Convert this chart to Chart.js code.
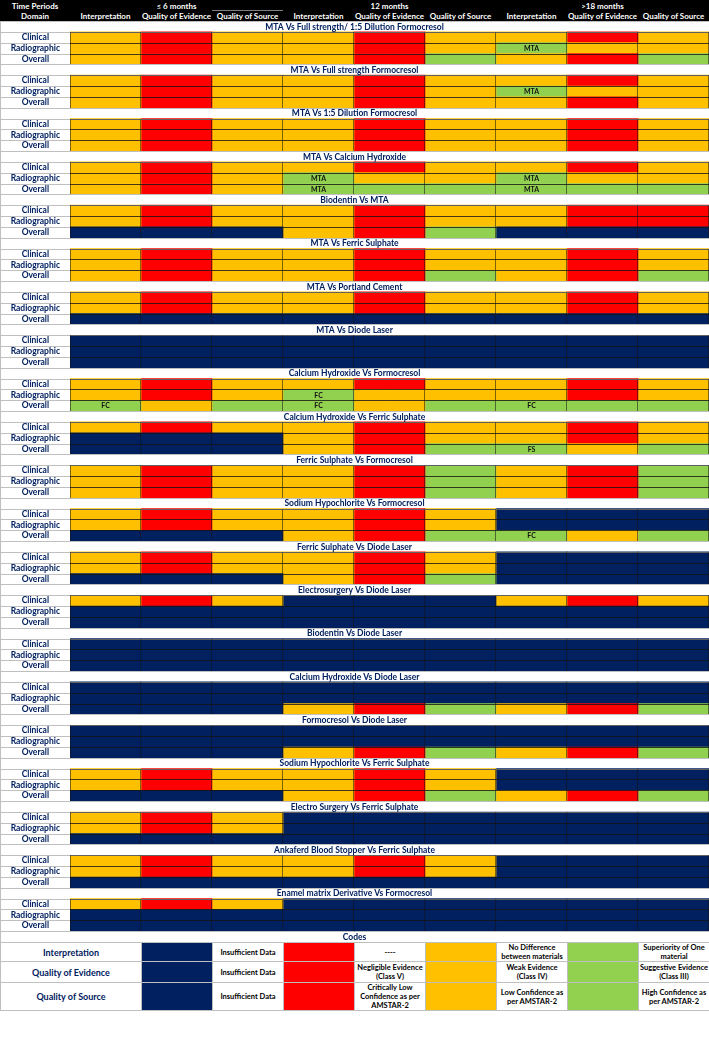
<!DOCTYPE html>
<html>
<head>
<meta charset="utf-8">
<title>Comparisons grid</title>
<script src="https://cdn.jsdelivr.net/npm/chart.js@4.4.1/dist/chart.umd.min.js"></script>
<style>
  body { margin: 0; background: #fff; font-family: Lato, "Open Sans", sans-serif; }
  #page { position: relative; width: 709px; height: 1039px; overflow: hidden; }
  #head { position: absolute; left: 0; top: 0; width: 709px; height: 21px; background: #000; color: #fff; font-weight: bold; font-size: 8px; }
  #head span { position: absolute; text-align: center; white-space: nowrap; line-height: 10px; }
  #head .rule { position: absolute; left: 212px; top: 10px; width: 71px; height: 1px; background: #7f7f7f; }
  #wrap { position: absolute; left: 0; top: 21px; width: 709px; height: 921px; }
  #codes { position: absolute; left: 0; top: 942px; width: 709px; border-collapse: collapse; table-layout: fixed; }
  #codes td { border: 1px solid #bfbfbf; padding: 0 1px; text-align: center; font-weight: bold; font-size: 7.5px; line-height: 9px; color: #000; }
  #codes td.name { color: #002060; font-size: 9px; }
</style>
</head>
<body>
<div id="page">
  <div id="head"></div>
  <div id="wrap"><canvas id="grid"></canvas></div>
  <table id="codes"></table>
</div>
<script>
// column groups and row names
var periods = ['≤ 6 months', '12 months', '>18 months'];
var domains = ['Interpretation', 'Quality of Evidence', 'Quality of Source'];
var outcomes = ['Clinical', 'Radiographic', 'Overall'];

var comparisons = [
  'MTA Vs Full strength/ 1:5 Dilution Formocresol',
  'MTA Vs Full strength Formocresol',
  'MTA Vs 1:5 Dilution Formocresol',
  'MTA Vs Calcium Hydroxide',
  'Biodentin Vs MTA',
  'MTA Vs Ferric Sulphate',
  'MTA Vs Portland Cement',
  'MTA Vs Diode Laser',
  'Calcium Hydroxide Vs Formocresol',
  'Calcium Hydroxide Vs Ferric Sulphate',
  'Ferric Sulphate Vs Formocresol',
  'Sodium Hypochlorite Vs Formocresol',
  'Ferric Sulphate Vs Diode Laser',
  'Electrosurgery Vs Diode Laser',
  'Biodentin Vs Diode Laser',
  'Calcium Hydroxide Vs Diode Laser',
  'Formocresol Vs Diode Laser',
  'Sodium Hypochlorite Vs Ferric Sulphate',
  'Electro Surgery Vs Ferric Sulphate',
  'Ankaferd Blood Stopper Vs Ferric Sulphate',
  'Enamel matrix Derivative Vs Formocresol'
];

// N = insufficient data, R = red, O = amber, G = green ; one string per outcome row
var grades = [
  ['ORO ORO ORO', 'ORO ORO GOO', 'ORO ORG ORG'],
  ['ORO ORO ORO', 'ORO ORO GOO', 'ORO ORO ORO'],
  ['ORO ORO ORO', 'ORO ORO ORO', 'ORO ORO ORO'],
  ['ORO ORO ORO', 'ORO GOO GOO', 'ORO GGG GGG'],
  ['ORO ORO ORR', 'ORO ORO ORR', 'NNN ORG NNN'],
  ['ORO ORO ORO', 'ORO ORO ORO', 'ORO ORG ORG'],
  ['ORO ORO ORO', 'ORO ORO ORO', 'NNN NNN NNN'],
  ['NNN NNN NNN', 'NNN NNN NNN', 'NNN NNN NNN'],
  ['ORO ORO ORO', 'ORO GOO ORO', 'GOG GOG GGG'],
  ['ORO ORO ORO', 'NNN ORO ORO', 'NNN ORG GOG'],
  ['ORO ORG ORG', 'ORO ORG ORG', 'ORO ORG ORG'],
  ['ORO ORO NNN', 'ORO ORO NNN', 'NNN ORG GOG'],
  ['ORO ORO NNN', 'ORO ORO NNN', 'NNN ORG NNN'],
  ['ORO NNN ORO', 'NNN NNN NNN', 'NNN NNN NNN'],
  ['NNN NNN NNN', 'NNN NNN NNN', 'NNN NNN NNN'],
  ['NNN NNN NNN', 'NNN NNN NNN', 'NNN ORG ORG'],
  ['NNN NNN NNN', 'NNN NNN NNN', 'NNN ORG ORG'],
  ['ORO ORO NNN', 'ORO ORO NNN', 'NNN ORG ORG'],
  ['ORO NNN NNN', 'ORO NNN NNN', 'NNN NNN NNN'],
  ['ORO ORO NNN', 'ORO ORO NNN', 'NNN NNN NNN'],
  ['ORO NNN NNN', 'NNN NNN NNN', 'NNN NNN NNN']
];

// [comparison, outcome, column, text]
var cellNotes = [
  [0, 1, 6, 'MTA'],
  [1, 1, 6, 'MTA'],
  [3, 1, 3, 'MTA'], [3, 1, 6, 'MTA'], [3, 2, 3, 'MTA'], [3, 2, 6, 'MTA'],
  [8, 1, 3, 'FC'], [8, 2, 0, 'FC'], [8, 2, 3, 'FC'], [8, 2, 6, 'FC'],
  [9, 2, 6, 'FS'],
  [11, 2, 6, 'FC']
];

var codeOrder = ['N', 'R', 'O', 'G'];
var codeRows = ['Interpretation', 'Quality of Evidence', 'Quality of Source'];
var codeTexts = [
  ['Insufficient Data', '----', 'No Difference between materials', 'Superiority of One material'],
  ['Insufficient Data', 'Negligible Evidence (Class V)', 'Weak Evidence (Class IV)', 'Suggestive Evidence (Class III)'],
  ['Insufficient Data', 'Critically Low Confidence as per AMSTAR-2', 'Low Confidence as per AMSTAR-2', 'High Confidence as per AMSTAR-2']
];

var palette = { N: '#002060', R: '#ff0000', O: '#ffc000', G: '#92d050' };
var navy = '#002060';

// header
var head = document.getElementById('head');
function addHead(text, left, top, width) {
  var s = document.createElement('span');
  s.textContent = text;
  s.style.left = left + 'px';
  s.style.top = top + 'px';
  s.style.width = width + 'px';
  head.appendChild(s);
}
addHead('Time Periods', 0, 1, 70);
addHead('Domain', 0, 11, 70);
periods.forEach(function (p, i) { addHead(p, 70 + i * 213, 1, 213); });
for (var c = 0; c < 9; c++) addHead(domains[c % 3], 70 + c * 71, 11, 71);
var rule = document.createElement('div');
rule.className = 'rule';
head.appendChild(rule);

// codes table
var table = document.getElementById('codes');
var heights = [18, 21, 28];
var cg = '<colgroup><col style="width:141px">';
for (var k = 0; k < 8; k++) cg += '<col style="width:71px">';
table.innerHTML = cg + '</colgroup>';
codeRows.forEach(function (name, r) {
  var tr = table.insertRow();
  tr.style.height = heights[r] + 'px';
  var td = tr.insertCell();
  td.className = 'name';
  td.textContent = name;
  codeOrder.forEach(function (code, j) {
    var sw = tr.insertCell();
    sw.style.background = palette[code];
    var tx = tr.insertCell();
    tx.textContent = codeTexts[r][j];
  });
});

// rows of the grid
var rows = [];
comparisons.forEach(function (title, s) {
  rows.push({ title: title });
  outcomes.forEach(function (name, r) {
    rows.push({ name: name, codes: grades[s][r].replace(/ /g, ''), s: s, r: r });
  });
});
rows.push({ title: 'Codes' });

var datasets = [];
for (var col = 0; col < 9; col++) {
  (function (col) {
    datasets.push({
      label: periods[Math.floor(col / 3)] + ' - ' + domains[col % 3],
      data: rows.map(function (row) { return row.codes ? 1 : null; }),
      backgroundColor: rows.map(function (row) { return row.codes ? palette[row.codes[col]] : 'rgba(0,0,0,0)'; }),
      borderWidth: 0,
      barPercentage: 1,
      categoryPercentage: 1
    });
  })(col);
}

var gridLines = {
  id: 'gridLines',
  afterDatasetsDraw: function (chart) {
    var ctx = chart.ctx, area = chart.chartArea, y = chart.scales.y, x = chart.scales.x;
    var h = y.getPixelForValue(1) - y.getPixelForValue(0);
    var W = chart.width;
    ctx.save();
    ctx.lineWidth = 1;
    rows.forEach(function (row, i) {
      var yc = y.getPixelForValue(i);
      var top = Math.round(yc - h / 2) + 0.5;
      var bot = Math.round(yc + h / 2) + 0.5;
      if (row.title) {
        ctx.strokeStyle = '#bfbfbf';
        ctx.beginPath();
        ctx.moveTo(0, top); ctx.lineTo(W, top);
        ctx.moveTo(0, bot); ctx.lineTo(W, bot);
        ctx.moveTo(0.5, top); ctx.lineTo(0.5, bot);
        ctx.stroke();
        ctx.fillStyle = navy;
        ctx.font = 'bold 8.5px Lato';
        ctx.textAlign = 'center';
        ctx.textBaseline = 'middle';
        ctx.fillText(row.title, W / 2, yc + 0.5);
      } else {
        ctx.strokeStyle = '#bfbfbf';
        ctx.beginPath();
        ctx.moveTo(0, top); ctx.lineTo(area.left, top);
        ctx.moveTo(0, bot); ctx.lineTo(area.left, bot);
        ctx.moveTo(0.5, top); ctx.lineTo(0.5, bot);
        ctx.stroke();
        ctx.strokeStyle = 'rgba(20,20,20,0.55)';
        ctx.beginPath();
        ctx.moveTo(area.left, top); ctx.lineTo(area.right, top);
        ctx.moveTo(area.left, bot); ctx.lineTo(area.right, bot);
        for (var c = 0; c <= 9; c++) {
          var xp = Math.round(x.getPixelForValue(c)) - 0.5;
          if (c === 0) xp += 1;
          ctx.moveTo(xp, top); ctx.lineTo(xp, bot);
        }
        ctx.stroke();
      }
    });
    // cell notes
    ctx.fillStyle = '#111';
    ctx.font = 'bold 7px Lato';
    ctx.textAlign = 'center';
    ctx.textBaseline = 'middle';
    cellNotes.forEach(function (n) {
      var idx = n[0] * 4 + 1 + n[1];
      var el = chart.getDatasetMeta(n[2]).data[idx];
      ctx.fillText(n[3], (el.x + el.base) / 2, el.y + 0.5);
    });
    ctx.restore();
  }
};

new Chart(document.getElementById('grid'), {
  type: 'bar',
  data: {
    labels: rows.map(function (row) { return row.codes ? row.name : ''; }),
    datasets: datasets
  },
  options: {
    indexAxis: 'y',
    responsive: true,
    maintainAspectRatio: false,
    animation: false,
    layout: { padding: 0 },
    plugins: { legend: { display: false }, tooltip: { enabled: false } },
    scales: {
      x: { type: 'linear', stacked: true, min: 0, max: 9, display: false },
      y: {
        stacked: true,
        grid: { display: false, drawTicks: false },
        border: { display: false },
        ticks: {
          autoSkip: false,
          padding: 10,
          crossAlign: 'center',
          color: navy,
          font: { family: 'Lato', weight: 'bold', size: 8.5 }
        },
        afterFit: function (scale) {
          scale.width = 70;
          scale.paddingTop = 0;
          scale.paddingBottom = 0;
        }
      }
    }
  },
  plugins: [gridLines]
});
</script>
</body>
</html>
